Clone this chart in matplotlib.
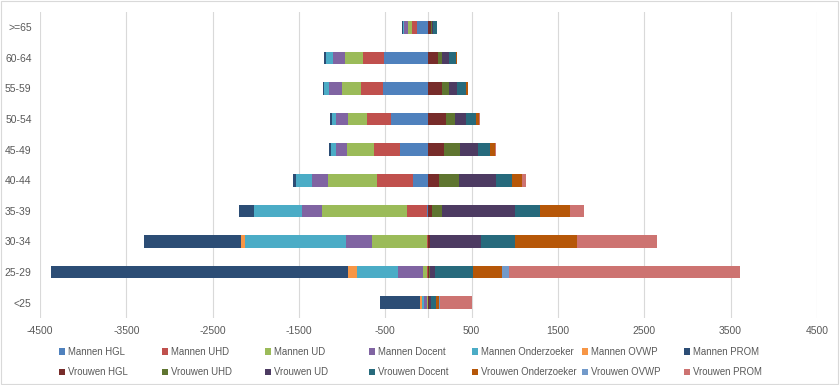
import matplotlib
matplotlib.use("Agg")
import matplotlib.pyplot as plt
import numpy as np

plt.rcParams['font.family'] = ['Liberation Sans Narrow', 'Liberation Sans', 'DejaVu Sans']

# age groups, bottom to top
cats = ['<25', '25-29', '30-34', '35-39', '40-44', '45-49', '50-54', '55-59', '60-64', '>=65']

# men (drawn to the left)
m_hgl = [5, 5, 8, 19, 185, 328, 436, 528, 513, 135]
m_uhd = [5, 10, 12, 231, 409, 305, 274, 251, 247, 58]
m_ud = [12, 43, 637, 980, 575, 312, 220, 220, 204, 39]
m_docent = [30, 298, 303, 231, 177, 123, 139, 154, 147, 54]
m_onderz = [20, 476, 1167, 555, 193, 62, 50, 54, 77, 8]
m_ovwp = [25, 104, 39, 0, 0, 0, 0, 0, 0, 0]
m_prom = [465, 3437, 1128, 174, 31, 19, 19, 19, 19, 15]

# women (drawn to the right)
w_hgl = [5, 10, 12, 39, 127, 177, 201, 158, 108, 27]
w_uhd = [5, 10, 4, 123, 224, 185, 108, 77, 46, 15]
w_ud = [15, 58, 593, 837, 436, 208, 123, 100, 85, 15]
w_docent = [65, 432, 389, 289, 178, 143, 116, 100, 81, 39]
w_onderz = [35, 347, 719, 347, 116, 58, 38, 19, 15, 0]
w_ovwp = [5, 81, 0, 0, 0, 0, 0, 0, 0, 0]
w_prom = [372, 2672, 931, 162, 46, 12, 10, 0, 0, 0]

men = [("Mannen HGL", m_hgl, '#4F81BD'),
       ("Mannen UHD", m_uhd, '#C0504D'),
       ("Mannen UD", m_ud, '#9BBB59'),
       ("Mannen Docent", m_docent, '#8064A2'),
       ("Mannen Onderzoeker", m_onderz, '#4BACC6'),
       ("Mannen OVWP", m_ovwp, '#F79646'),
       ("Mannen PROM", m_prom, '#2C4D75')]
women = [("Vrouwen HGL", w_hgl, '#772C2A'),
         ("Vrouwen UHD", w_uhd, '#5F7530'),
         ("Vrouwen UD", w_ud, '#4D3B62'),
         ("Vrouwen Docent", w_docent, '#276A7C'),
         ("Vrouwen Onderzoeker", w_onderz, '#B65708'),
         ("Vrouwen OVWP", w_ovwp, '#729ACA'),
         ("Vrouwen PROM", w_prom, '#CD7371')]

fig = plt.figure(figsize=(8.4, 3.85), dpi=100)
ax = fig.add_axes([0.0476, 0.174, 0.925, 0.795])

y = np.arange(len(cats))
h = 0.41
handles = []
left = np.zeros(len(cats))
for name, vals, col in men:
    v = -np.array(vals, dtype=float)
    b = ax.barh(y, v, left=left, height=h, color=col, label=name, zorder=3)
    left = left + v
    handles.append(b)
left = np.zeros(len(cats))
for name, vals, col in women:
    v = np.array(vals, dtype=float)
    b = ax.barh(y, v, left=left, height=h, color=col, label=name, zorder=3)
    left = left + v
    handles.append(b)

ax.set_xlim(-4500, 4500)
ax.set_ylim(-0.5, len(cats) - 0.5)
xt = np.arange(-4500, 4501, 1000)
ax.set_xticks(xt)
ax.set_xticklabels([str(t) for t in xt])
ax.set_yticks(y)
ax.set_yticklabels(cats)
ax.tick_params(length=0, labelsize=7.5, colors='#595959')
ax.tick_params(axis='x', pad=6)
ax.tick_params(axis='y', pad=6)
ax.grid(axis='x', color='#d9d9d9', lw=0.8, zorder=0)
ax.axvline(0, color='#d9d9d9', lw=0.8, zorder=2)
for s in ax.spines.values():
    s.set_visible(False)

# legend: one small legend per column, men on top, women below
leg_x = [59, 162, 265, 369, 472, 582, 684]
for i in range(7):
    pair = [handles[i], handles[7 + i]]
    fig.legend(pair, [hh.get_label() for hh in pair], loc='upper left',
               bbox_to_anchor=(leg_x[i] / 840, 0.099), frameon=False,
               fontsize=6.9, labelcolor='#595959', handlelength=0.6, handleheight=0.6,
               handletextpad=0.3, labelspacing=1.05, borderaxespad=0, borderpad=0)

fig.patches.append(plt.Rectangle((0.001, 0.002), 0.997, 0.996, transform=fig.transFigure,
                                 fill=False, edgecolor='#d9d9d9', lw=0.8))

fig.savefig('out.png', dpi=100)
